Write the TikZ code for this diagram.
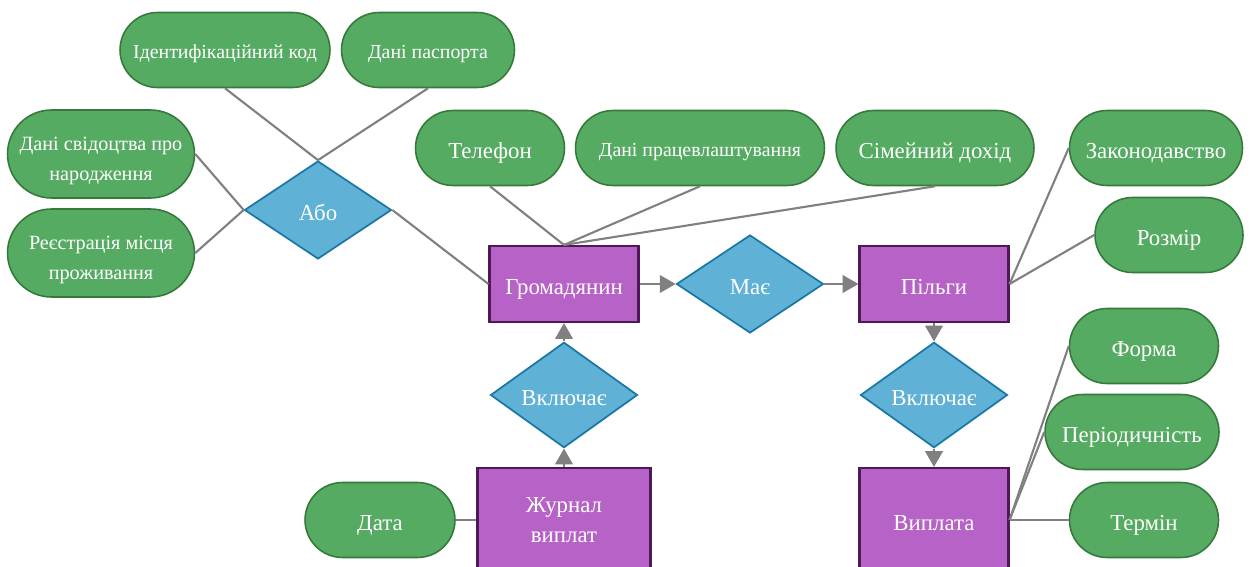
\documentclass[tikz,border=0pt]{standalone}
\usepackage{fontspec}
\setmainfont{Liberation Serif}
\usetikzlibrary{shapes.geometric,shapes.misc,arrows.meta}
\definecolor{attrfill}{HTML}{56AB63}
\definecolor{attrline}{HTML}{357A3C}
\definecolor{entfill}{HTML}{B762C6}
\definecolor{entline}{HTML}{4F1857}
\definecolor{relfill}{HTML}{5FB1D6}
\definecolor{relline}{HTML}{1B78A6}
\definecolor{linkgray}{HTML}{808080}

\begin{document}
\begin{tikzpicture}[x=0.02cm,y=-0.02cm,
    attr/.style={rounded rectangle, draw=attrline, fill=attrfill, line width=0.9pt,
        text=white, minimum height=1.5cm, inner sep=0pt, align=center,
        text height=11.4pt, text depth=0pt, font=\fontsize{13}{16}\selectfont},
    attrsmall/.style={attr, text height=9.9pt, font=\fontsize{11.3}{14}\selectfont},
    attrtwo/.style={attr, minimum height=1.76cm, text height=30pt, text depth=0pt,
        font=\fontsize{11.5}{17}\selectfont},
    entity/.style={rectangle, draw=entline, fill=entfill, line width=1.2pt, text=white,
        minimum width=2.98cm, minimum height=1.52cm, align=center,
        text height=11.4pt, text depth=0pt, font=\fontsize{13}{17}\selectfont},
    rel/.style={diamond, draw=relline, fill=relfill, line width=1pt, text=white,
        minimum width=2.94cm, minimum height=1.96cm, inner sep=0pt,
        text height=11.4pt, text depth=0pt, font=\fontsize{13}{16}\selectfont},
    link/.style={draw=linkgray, line width=1.2pt},
    flow/.style={link, -{Triangle[length=9pt,width=10pt]}}]
    \clip (0,0) rectangle (1251,567);
    % attributes of the citizen
    \node[attrsmall, minimum width=4.2cm]  (idcode)   at (225,50)  {Ідентифікаційний код};
    \node[attrsmall, minimum width=3.46cm] (passport) at (428,50)  {Дані паспорта};
    \node[attrtwo, minimum width=3.74cm]   (birth)    at (101,154) {Дані свідоцтва про\\народження};
    \node[attrtwo, minimum width=3.74cm]   (reg)      at (101,253) {Реєстрація місця\\проживання};
    \node[attr, minimum width=2.98cm]      (phone)    at (490,148) {Телефон};
    \node[attrsmall, minimum width=4.98cm] (job)      at (700,148) {Дані працевлаштування};
    \node[attr, minimum width=3.96cm]      (income)   at (935,148) {Сімейний дохід};
    % attributes of benefits and payments
    \node[attr, minimum width=3.46cm]      (law)      at (1156,148) {Законодавство};
    \node[attr, minimum width=2.96cm]      (size)     at (1169,235) {Розмір};
    \node[attr, minimum width=2.98cm]      (form)     at (1144,346) {Форма};
    \node[attr, minimum width=3.48cm]      (period)   at (1132,432) {Періодичність};
    \node[attr, minimum width=2.98cm]      (term)     at (1144,520) {Термін};
    \node[attr, minimum width=3cm]         (date)     at (380,520)  {Дата};
    % entities
    \node[entity] (citizen)  at (564,284) {Громадянин};
    \node[entity] (benefit)  at (934,284) {Пільги};
    \node[entity, minimum width=3.46cm, minimum height=2.08cm, text height={}, text depth={}]
        (journal) at (564,520) {Журнал\\виплат};
    \node[entity, minimum height=2.08cm] (payment) at (934,520) {Виплата};
    % relations
    \node[rel] (or)   at (318,210) {Або};
    \node[rel] (has)  at (750,284) {Має};
    \node[rel] (incl) at (564,395) {Включає};
    \node[rel] (inclb) at (934,395) {Включає};
    % connectors
    \draw[link] (idcode.south) -- (or.north);
    \draw[link] (passport.south) -- (or.north);
    \draw[link] (birth.east) -- (or.west);
    \draw[link] (reg.east) -- (or.west);
    \draw[link] (or.east) -- (citizen.west);
    \draw[link] (phone.south) -- (citizen.north);
    \draw[link] (job.south) -- (citizen.north);
    \draw[link] (income.south) -- (citizen.north);
    \draw[link] (benefit.east) -- (law.west);
    \draw[link] (benefit.east) -- (size.west);
    \draw[link] (payment.east) -- (form.west);
    \draw[link] (payment.east) -- (period.west);
    \draw[link] (payment.east) -- (term.west);
    \draw[link] (date.east) -- (journal.west);
    \draw[flow] (citizen.east) -- (has.west);
    \draw[flow] (has.east) -- (benefit.west);
    \draw[flow] (benefit.south) -- (inclb.north);
    \draw[flow] (inclb.south) -- (payment.north);
    \draw[flow] (journal.north) -- (incl.south);
    \draw[flow] (incl.north) -- (citizen.south);
\end{tikzpicture}
\end{document}
